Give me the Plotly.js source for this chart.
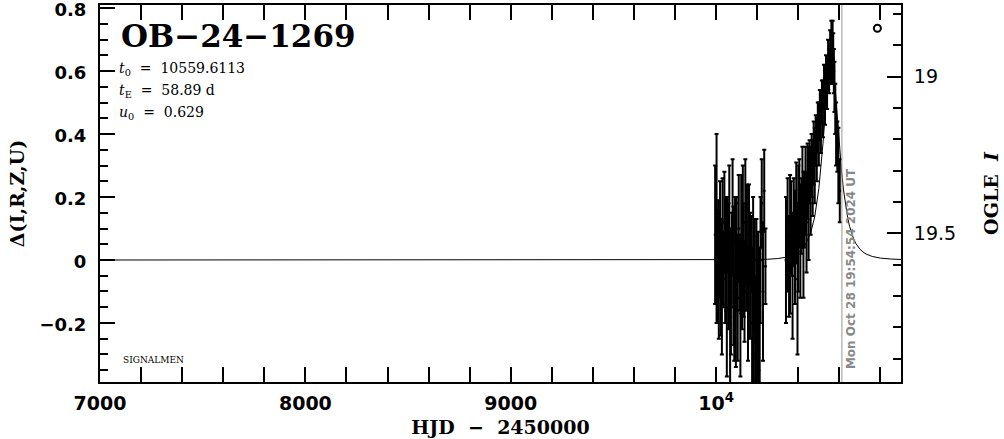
<!DOCTYPE html>
<html><head><meta charset="utf-8">
<script src="https://cdn.plot.ly/plotly-3.0.1.min.js"></script>
<style>body{margin:0;background:#fff}#plot{width:1004px;height:439px}</style>
</head><body><div id="plot"></div>
<script>
// Data points: HJD-2450000, Δ(I,R,Z,U), error
const hjd = [9995,10002,10006,10010,10013,10016,10019,10022,10025,10028,10031,10035,10040,10044,10048,10052,10056,10060,10064,10068,10072,10076,10080,10084,10088,10092,10096,10100,10105,10110,10114,10118,10122,10126,10130,10134,10138,10142,10146,10150,10155,10160,10165,10170,10175,10180,10184,10188,10192,10196,10200,10204,10208,10212,10216,10222,10228,10234,10240,
10340,10348,10355,10360,10366,10372,10378,10384,10390,10396,10400,10405,10410,10415,10420,10425,10430,10435,10440,10445,10450,10455,10460,10465,10470,10475,10480,10485,10490,10495,10500,10505,10510,10515,10520,10525,10530,10535,10540,10545,10550,10555,10558,10561,10564,10567,10570,10573,10576,10580,10584,10590,10595,10602];
const delta = [0.08,0.10,-0.02,0.05,-0.05,0.00,0.10,-0.08,0.03,-0.12,0.06,-0.03,0.12,-0.06,0.02,-0.15,0.08,-0.02,0.05,-0.20,-0.10,0.00,0.14,-0.05,-0.18,0.06,-0.08,0.02,-0.12,0.10,-0.04,-0.15,0.05,-0.07,0.16,0.00,-0.10,0.12,-0.02,0.04,-0.14,0.08,-0.05,0.02,-0.20,-0.10,-0.25,-0.05,-0.30,-0.15,-0.22,-0.05,-0.35,-0.18,0.00,0.18,-0.10,0.22,-0.02,
0.00,0.08,-0.02,0.05,0.10,-0.05,0.12,0.04,0.15,-0.06,0.10,0.18,0.06,0.14,0.20,0.08,0.16,0.22,0.12,0.25,0.18,0.28,0.22,0.30,0.26,0.34,0.30,0.38,0.35,0.42,0.40,0.46,0.44,0.50,0.48,0.55,0.52,0.58,0.56,0.62,0.60,0.65,0.62,0.68,0.63,0.70,0.64,0.60,0.55,0.48,0.40,0.36,0.30,0.22];
const errs = [0.22,0.30,0.18,0.14,0.20,0.12,0.15,0.16,0.10,0.18,0.20,0.12,0.16,0.14,0.18,0.22,0.12,0.20,0.25,0.25,0.20,0.15,0.18,0.22,0.14,0.14,0.26,0.18,0.20,0.17,0.12,0.22,0.22,0.15,0.14,0.18,0.16,0.20,0.14,0.20,0.18,0.16,0.20,0.12,0.24,0.30,0.20,0.18,0.25,0.28,0.22,0.14,0.20,0.22,0.20,0.14,0.22,0.13,0.12,
0.20,0.18,0.16,0.22,0.15,0.20,0.14,0.18,0.16,0.24,0.20,0.14,0.18,0.12,0.16,0.20,0.12,0.14,0.16,0.12,0.18,0.10,0.14,0.10,0.12,0.10,0.12,0.08,0.10,0.08,0.10,0.08,0.10,0.07,0.09,0.07,0.09,0.07,0.08,0.08,0.07,0.08,0.06,0.08,0.07,0.06,0.08,0.07,0.08,0.08,0.10,0.08,0.12,0.10];
// Model curve
const modelHjd = [7000,9000,9500,9800,10000,10100,10200,10250,10300,10350,10400,10430,10460,10480,10500,10520,10540,10550,10560,10570,10580,10600,10610,10620,10630,10640,10650,10660,10670,10680,10690,10700,10720,10730,10760,10800,10850,10900];
const modelDelta = [0,0,0.00002,0.00008,0.00025,0.00054,0.0014,0.0024,0.0046,0.0097,0.0234,0.0431,0.0849,0.1379,0.2271,0.3689,0.5496,0.6215,0.6481,0.6172,0.5429,0.3623,0.2854,0.2228,0.1735,0.1352,0.1059,0.0833,0.0660,0.0527,0.0424,0.0343,0.0230,0.0191,0.0112,0.0060,0.0031,0.0017];
// Extra open-circle point
const circHjd = [10785];
const circDelta = [0.736];
// Texts
const eventName = 'OB−24−1269';
const paramLines = ['<i>t</i><sub>0</sub>  =  10559.6113', '<i>t</i><sub>E</sub>  =  58.89 d', '<i>u</i><sub>0</sub>  =  0.629'];
const nowHjd = 10612.3;
const nowLabel = 'Mon Oct 28 19:54:54 2024 UT';
const xTickVals = [7000, 8000, 9000, 10000];
const xTickText = ['7000', '8000', '9000', '10<sup>4</sup>'];
const y2TickVals = [19, 19.5];
const y2TickText = ['19', '19.5'];

const serif = '"DejaVu Serif", serif';
const sans = '"DejaVu Sans", sans-serif';

const traces = [
  {x: modelHjd, y: modelDelta, mode: 'lines', line: {color: '#000', width: 1}, hoverinfo: 'skip'},
  {x: hjd, y: delta, mode: 'markers', marker: {color: '#000', size: 3},
   error_y: {type: 'data', array: errs, visible: true, color: '#000', thickness: 2, width: 2}},
  {x: circHjd, y: circDelta, mode: 'markers', marker: {symbol: 'circle-open', color: '#000', size: 7, line: {width: 2}}},
  {x: [7000, 10900], y: [19.5, 19.5], yaxis: 'y2', mode: 'lines', line: {width: 0}, hoverinfo: 'skip', showlegend: false}
];

const annotations = [
  {xref: 'paper', yref: 'paper', x: 0.024, y: 0.97, xanchor: 'left', yanchor: 'top', text: '<b>' + eventName + '</b>', showarrow: false, font: {family: serif, size: 31, color: '#000'}},
  {xref: 'paper', yref: 'paper', x: 0.026, y: 0.058, xanchor: 'left', yanchor: 'middle', text: 'SIGNALMEN', showarrow: false, font: {family: serif, size: 9, color: '#000'}},
  {xref: 'x', yref: 'paper', x: nowHjd, y: 0.03, xanchor: 'left', yanchor: 'bottom', xshift: 0, text: '<b>' + nowLabel + '</b>', textangle: -90, showarrow: false, font: {family: sans, size: 12, color: '#888'}}
];
paramLines.forEach((t, i) => annotations.push({xref: 'paper', yref: 'paper', x: 0.021, y: 0.83 - i * 0.058, xanchor: 'left', yanchor: 'middle', text: t, showarrow: false, font: {family: serif, size: 14, color: '#000'}}));

const layout = {
  width: 1004, height: 439,
  margin: {l: 100, r: 103, t: 5, b: 57, pad: 0},
  paper_bgcolor: '#fff', plot_bgcolor: '#fff',
  showlegend: false,
  xaxis: {range: [7000, 10900], tickvals: xTickVals, ticktext: xTickText, ticks: 'inside', ticklen: 15, tickwidth: 2, tickcolor: '#000',
    minor: {dtick: 200, tick0: 7000, ticks: 'inside', ticklen: 8, tickwidth: 2, tickcolor: '#000'},
    showline: true, linewidth: 2, linecolor: '#000', mirror: 'allticks', showgrid: false, zeroline: false,
    ticklabeloverflow: 'allow', ticklabelstandoff: 3,
    tickfont: {family: sans, size: 19, color: '#000', weight: 'bold'},
    title: {text: '<b>HJD  −  2450000</b>', font: {family: serif, size: 19, color: '#000'}, standoff: 8}},
  yaxis: {range: [-0.3875, 0.81], dtick: 0.2, tick0: 0, ticks: 'inside', ticklen: 15, tickwidth: 2, tickcolor: '#000',
    minor: {dtick: 0.05, ticks: 'inside', ticklen: 8, tickwidth: 2, tickcolor: '#000'},
    showline: true, linewidth: 2, linecolor: '#000', mirror: false, showgrid: false, zeroline: false,
    ticklabeloverflow: 'allow', ticklabelstandoff: 8, ticklabelshift: 2,
    tickfont: {family: sans, size: 18, color: '#000', weight: 'bold'},
    title: {text: '<b>Δ(I,R,Z,U)</b>', font: {family: serif, size: 19, color: '#000'}, standoff: 10}},
  yaxis2: {overlaying: 'y', side: 'right', range: [19.974, 18.772], tickvals: y2TickVals, ticktext: y2TickText, ticks: 'inside', ticklen: 14, tickwidth: 2, tickcolor: '#000',
    minor: {dtick: 0.1, tick0: 19, ticks: 'inside', ticklen: 8, tickwidth: 2, tickcolor: '#000'},
    showline: true, linewidth: 2, linecolor: '#000', showgrid: false, zeroline: false,
    ticklabeloverflow: 'allow', ticklabelstandoff: 7,
    tickfont: {family: sans, size: 19, color: '#000'},
    title: {text: '<b>OGLE  <i>I</i></b>', font: {family: serif, size: 19, color: '#000'}, standoff: 30}},
  shapes: [{type: 'line', xref: 'x', yref: 'paper', x0: nowHjd, x1: nowHjd, y0: 0, y1: 1, line: {color: '#999', width: 1}}],
  annotations: annotations
};
Plotly.newPlot('plot', traces, layout, {staticPlot: true});
</script></body></html>
